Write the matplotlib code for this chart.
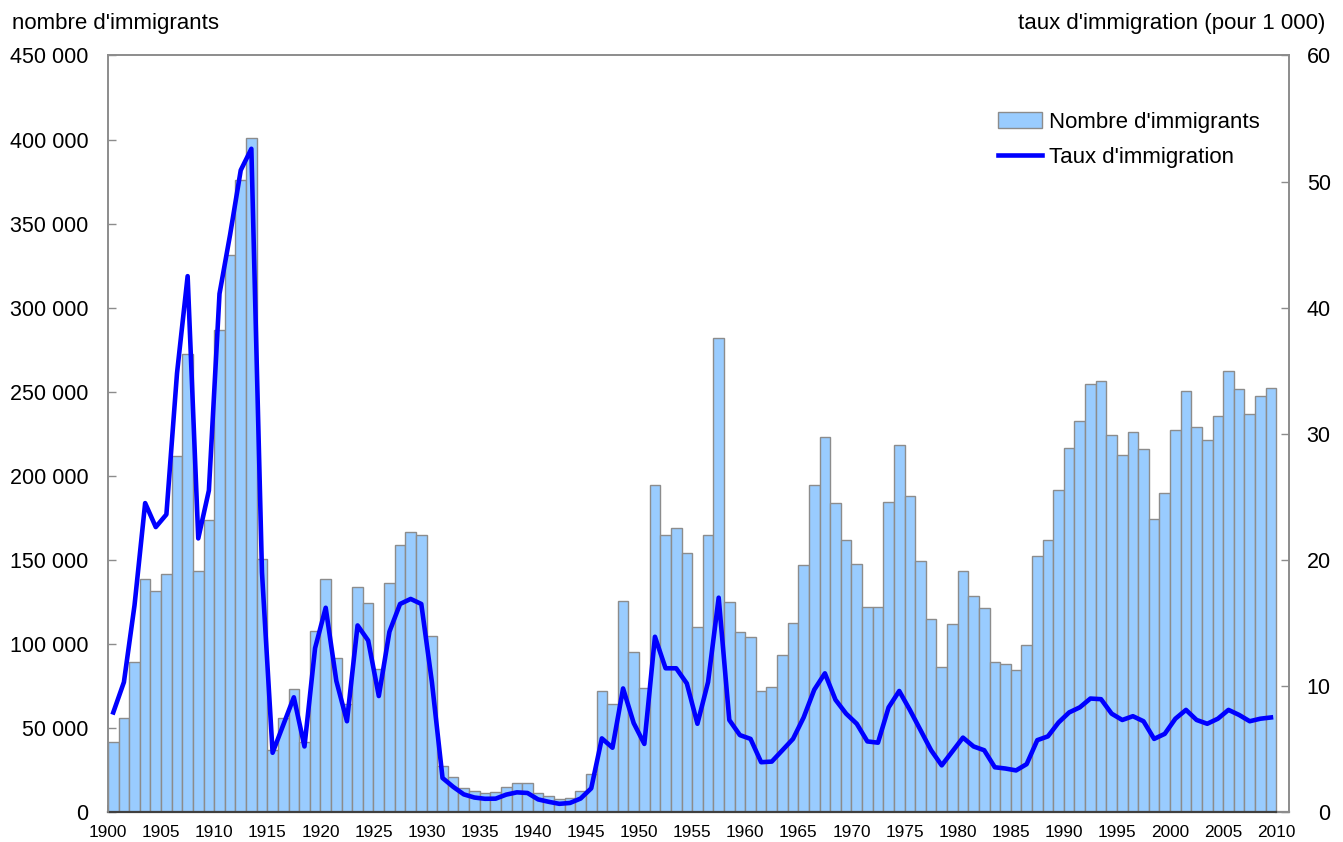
import numpy as np
import matplotlib
matplotlib.use('Agg')
import matplotlib.pyplot as plt
from matplotlib.ticker import FuncFormatter
import matplotlib.transforms as mtransforms

plt.rcParams.update({
    "font.family": ["Liberation Sans", "DejaVu Sans"],
})

years = list(range(1900, 2010))

immigrants = [
    41681, 55747, 89102, 138660, 131252, 141465, 211653, 272409, 143326, 173694,
    286839, 331288, 375756, 400870, 150484, 36665, 55914, 72910, 41845, 107698,
    138824, 91728, 64224, 133729, 124164, 84907, 135982, 158886, 166783, 164993,
    104806, 27530, 20591, 14382, 12476, 11277, 11643, 15101, 17244, 16994,
    11324, 9329, 7576, 8504, 12801, 22722, 71719, 64127, 125414, 95217,
    73912, 194391, 164498, 168868, 154227, 109946, 164857, 282164, 124851, 106928,
    104111, 71698, 74586, 93151, 112606, 146758, 194743, 222876, 183974, 161531,
    147713, 121900, 122006, 184200, 218465, 187881, 149429, 114914, 86313, 112096,
    143117, 128618, 121147, 89157, 88239, 84302, 99219, 152098, 161929, 191556,
    216452, 232744, 254817, 256641, 224364, 212504, 226073, 216038, 174195, 189951,
    227458, 250638, 229048, 221349, 235823, 262242, 251642, 236753, 247243, 252179,
]

taux = [
    7.9, 10.3, 16.4, 24.5, 22.6, 23.6, 34.8, 42.5, 21.7, 25.5,
    41.1, 45.8, 50.9, 52.6, 19.0, 4.7, 6.9, 9.1, 5.2, 13.0,
    16.2, 10.4, 7.2, 14.8, 13.6, 9.2, 14.3, 16.5, 16.9, 16.5,
    10.3, 2.7, 2.0, 1.4, 1.15, 1.05, 1.06, 1.38, 1.56, 1.51,
    1.0, 0.81, 0.65, 0.72, 1.07, 1.88, 5.84, 5.1, 9.8, 7.05,
    5.4, 13.9, 11.4, 11.4, 10.2, 7.0, 10.3, 17.0, 7.3, 6.1,
    5.8, 3.95, 4.0, 4.9, 5.8, 7.5, 9.7, 11.0, 8.9, 7.8,
    7.0, 5.6, 5.5, 8.3, 9.6, 8.1, 6.5, 4.9, 3.7, 4.8,
    5.9, 5.2, 4.9, 3.55, 3.45, 3.3, 3.8, 5.7, 6.0, 7.1,
    7.9, 8.3, 9.0, 8.95, 7.8, 7.3, 7.6, 7.2, 5.8, 6.2,
    7.4, 8.1, 7.3, 7.0, 7.4, 8.1, 7.7, 7.2, 7.4, 7.5,
]

x_ticks = list(range(1900, 2011, 5))

grey = '#8c8c8c'
dark = '#404040'

fig = plt.figure(figsize=(13.43, 8.42), dpi=100)
ax = fig.add_axes([0.0804, 0.0356, 0.8794, 0.8985])
ax2 = ax.twinx()

idx = np.arange(len(years))
bars = ax.bar(idx, immigrants, width=1.0, align='edge', color='#99ccff',
              edgecolor=grey, linewidth=1.0, label="Nombre d'immigrants", zorder=2)
line, = ax2.plot(idx + 0.5, taux, color='#0000ff', linewidth=3.3,
                 solid_joinstyle='round', label="Taux d'immigration", zorder=3)

ax.set_xlim(0, 111.2)
ax.set_ylim(0, 450000)
ax2.set_ylim(0, 60)

ax.set_yticks(np.arange(0, 450001, 50000))
ax.yaxis.set_major_formatter(FuncFormatter(lambda v, p: f"{int(v):,}".replace(",", " ")))
ax2.set_yticks(np.arange(0, 61, 10))

ax.set_xticks([y - 1900 for y in x_ticks])
ax.set_xticklabels([str(y) for y in x_ticks])
offset = mtransforms.ScaledTranslation(5 / 100, 0, fig.dpi_scale_trans)
for lab in ax.get_xticklabels():
    lab.set_transform(lab.get_transform() + offset)

ax.tick_params(axis='x', direction='in', length=5, width=1.2, color=dark,
               labelsize=12.4, pad=9)
ax.tick_params(axis='y', direction='in', length=6, width=1, color=grey,
               labelsize=15.5, pad=14)
ax2.tick_params(axis='y', direction='in', length=6, width=1, color=grey,
                labelsize=15.5, pad=30)
for lab in ax2.get_yticklabels():
    lab.set_horizontalalignment('right')

for a in (ax, ax2):
    for s in ('left', 'right', 'top'):
        a.spines[s].set_color(grey)
        a.spines[s].set_linewidth(1.2)
    a.spines['bottom'].set_color(dark)
    a.spines['bottom'].set_linewidth(1.6)
ax2.spines['bottom'].set_visible(False)
ax.spines['bottom'].set_bounds(0, len(years))
ax.axhline(0, xmin=len(years) / 111.2, xmax=1, color=grey, linewidth=1.6, clip_on=False)

fig.text(0.009, 0.965, "nombre d'immigrants", fontsize=16, ha='left', va='baseline')
fig.text(0.987, 0.965, "taux d'immigration (pour 1 000)", fontsize=16, ha='right', va='baseline')

leg = ax2.legend([bars, line], ["Nombre d'immigrants", "Taux d'immigration"],
                 loc='upper left', bbox_to_anchor=(0.746, 0.937), frameon=False,
                 fontsize=16, handlelength=2.0, handletextpad=0.3, labelspacing=0.62,
                 borderaxespad=0)

plt.savefig('out.png', dpi=100)
